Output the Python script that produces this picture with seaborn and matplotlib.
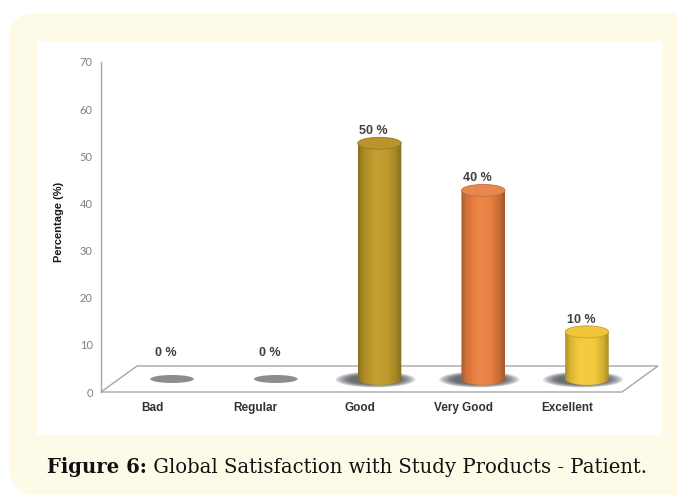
import numpy as np
import pandas as pd
import matplotlib
matplotlib.use("Agg")
import matplotlib.pyplot as plt
import seaborn as sns
from matplotlib.patches import Ellipse, Polygon, PathPatch, FancyBboxPatch, Rectangle
from matplotlib.path import Path
import matplotlib.transforms as mtransforms
from matplotlib.colors import to_rgb

# ---------------- data ----------------
categories = ["Bad", "Regular", "Good", "Very Good", "Excellent"]
values = [0, 0, 50, 40, 10]
value_labels = ["0 %", "0 %", "50 %", "40 %", "10 %"]
y_ticks = [0, 10, 20, 30, 40, 50, 60, 70]
y_label = "Percentage (%)"
caption_bold = "Figure 6:"
caption_text = " Global Satisfaction with Study Products - Patient."

# ---------------- style ----------------
bar_colors = ["#8C8C8C", "#8C8C8C", "#BE9A2A", "#E97E3E", "#F2C93A"]
top_colors = ["#8C8C8C", "#8C8C8C", "#B8942A", "#E88650", "#EFC53C"]

sns.set_theme(style="white")
plt.rcParams["font.family"] = ["Liberation Sans", "DejaVu Sans"]

W, H = 677, 498
fig = plt.figure(figsize=(W / 100, H / 100), dpi=100)
fig.patch.set_facecolor("white")

ident = mtransforms.IdentityTransform()
cream = FancyBboxPatch((9, H - 495), 720, 495 - 13,
                       boxstyle="round,pad=0,rounding_size=28",
                       transform=ident, facecolor="#FEFAE8", edgecolor="none",
                       zorder=0)
fig.patches.append(cream)
inner = Rectangle((37, H - 435), 662 - 37, 435 - 41, transform=ident,
                  facecolor="white", edgecolor="none", zorder=0.5)
fig.patches.append(inner)

ax_left, ax_right, ax_top, ax_bot = 101, 655, 62, 392
ax = fig.add_axes([ax_left / W, (H - ax_bot) / H,
                   (ax_right - ax_left) / W, (ax_bot - ax_top) / H])
ax.set_zorder(2)
ax.set_facecolor("none")

df = pd.DataFrame({"category": categories, "value": values})
sns.barplot(data=df, x="category", y="value", hue="category",
            palette=bar_colors, legend=False, width=0.42, saturation=1,
            ax=ax, zorder=3)
bar_patches = sorted([p for p in ax.patches if isinstance(p, Rectangle)],
                     key=lambda p: p.get_x())

xlim = (-0.685, 4.656)
ylim = (0, 70)
px_x = (ax_right - ax_left) / (xlim[1] - xlim[0])
px_y = (ax_bot - ax_top) / (ylim[1] - ylim[0])

depth_y = 26 / px_y
depth_x = 36 / px_x
front_right = xlim[0] + (622 - ax_left) / px_x
floor = Polygon([(xlim[0], 0), (front_right, 0),
                 (front_right + depth_x, depth_y), (xlim[0] + depth_x, depth_y)],
                closed=True, facecolor="white", edgecolor="#A6A6A6", lw=1.0,
                zorder=1, clip_on=False)
ax.add_patch(floor)

base = depth_y / 2
ey = 12 / px_y


def shade(col, f):
    c = np.array(to_rgb(col))
    if f >= 1:
        return np.clip(c + (1 - c) * (f - 1), 0, 1)
    return np.clip(c * f, 0, 1)


prof_t = [0.0, 0.12, 0.4, 0.65, 0.88, 1.0]
prof_f = [0.72, 0.9, 1.06, 1.02, 0.86, 0.7]

for i, p in enumerate(bar_patches):
    w = p.get_width()
    x0 = p.get_x()
    cx = x0 + w / 2
    v = p.get_height()
    p.set_y(base)
    p.set_visible(False)
    if v == 0:
        ax.add_patch(Ellipse((cx, base), w, 8 / px_y, facecolor=bar_colors[i],
                             edgecolor="none", zorder=3))
    else:
        for k in range(7):
            sw = (80 - k * 4.5) / px_x
            sh = (16 - k * 1.0) / px_y
            ax.add_patch(Ellipse((cx - 4 / px_x, base - 0.5 / px_y), sw, sh,
                                 facecolor="#353A42", edgecolor="none",
                                 alpha=0.17, zorder=2))
        t = np.linspace(0, 1, 64)
        f = np.interp(t, prof_t, prof_f)
        img = np.array([[shade(bar_colors[i], ff) for ff in f]])
        im = ax.imshow(img, extent=(x0, x0 + w, base - ey / 2, base + v),
                       aspect="auto", interpolation="bicubic", zorder=3)
        rect_path = Path([(x0, base), (x0 + w, base), (x0 + w, base + v),
                          (x0, base + v), (x0, base)],
                         [Path.MOVETO, Path.LINETO, Path.LINETO, Path.LINETO,
                          Path.CLOSEPOLY])
        th = np.linspace(0, 2 * np.pi, 60)
        ell = Path(np.column_stack([cx + w / 2 * np.cos(th),
                                    base + ey / 2 * np.sin(th)]))
        clip = PathPatch(Path.make_compound_path(rect_path, ell),
                         transform=ax.transData)
        im.set_clip_path(clip)
        ax.add_patch(Ellipse((cx, base + v), w, ey, facecolor=top_colors[i],
                             edgecolor=shade(top_colors[i], 0.82), lw=0.6,
                             zorder=4))
    off = 2.55 if v > 0 else 5.5
    ax.text(cx - 6 / px_x, base + v + off, value_labels[i], ha="center",
            va="center", fontsize=9, fontweight="bold", color="#404040",
            zorder=5)

ax.set_xlim(*xlim)
ax.set_ylim(*ylim)

for s in ["top", "right", "bottom"]:
    ax.spines[s].set_visible(False)
ax.spines["left"].set_color("#A6A6A6")
ax.spines["left"].set_linewidth(1.0)

ax.set_yticks(y_ticks)
ax.set_yticklabels([str(t) for t in y_ticks], fontsize=8, color="#808080",
                   family=["Lato", "DejaVu Sans"])
ax.tick_params(axis="y", length=0, pad=6)
ax.set_xticks(range(len(categories)))
ax.set_xticklabels(categories, fontsize=8.5, fontweight="bold", color="#333333")
ax.tick_params(axis="x", length=0, pad=7)
shift = mtransforms.ScaledTranslation(-20 / 100, 0, fig.dpi_scale_trans)
for lab in ax.get_xticklabels():
    lab.set_transform(lab.get_transform() + shift)
ax.set_xlabel("")
ax.set_ylabel("")
ax.text((59 - ax_left) / (ax_right - ax_left), (ax_bot - 222) / (ax_bot - ax_top),
        y_label, transform=ax.transAxes, rotation=90, ha="center", va="center",
        fontsize=8, fontweight="bold", color="#1A1A1A")

renderer = fig.canvas.get_renderer()
cap_x, cap_y = 47, H - 467
target_w = 646 - 47


def draw_caption(size):
    t1 = fig.text(cap_x / W, cap_y / H, caption_bold, fontsize=size,
                  fontweight="bold", family="DejaVu Serif", color="#111111",
                  va="center", ha="left")
    e1 = t1.get_window_extent(renderer)
    t2 = fig.text(e1.x1 / W, cap_y / H, caption_text, fontsize=size,
                  family="DejaVu Serif", color="#111111", va="center", ha="left")
    e2 = t2.get_window_extent(renderer)
    return t1, t2, e2.x1 - e1.x0


t1, t2, wtot = draw_caption(13)
t1.remove(); t2.remove()
draw_caption(13 * target_w / wtot)

fig.savefig("out.png", dpi=100, facecolor=fig.get_facecolor())
